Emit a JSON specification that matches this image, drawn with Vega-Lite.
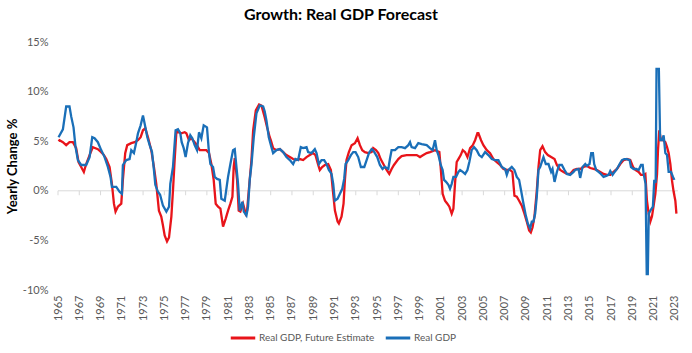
{
"$schema": "https://vega.github.io/schema/vega-lite/v6.json",
"autosize": {"type": "none"},
"padding": {"left": 58, "top": 42, "right": 14, "bottom": 63},
"width": 620,
"height": 248,
"background": "white",
"config": {"view": {"stroke": null}, "font": "Lato", "axisX": {"labelOverlap": false, "labelFlush": false}, "axis": {"labelOverlap": false}},
"title": {"text": "Growth: Real GDP Forecast", "font": "Lato", "fontSize": 16, "fontWeight": "bold", "color": "#000000", "anchor": "middle", "dx": -27, "offset": 13},
"layer": [
{
"data": {"values": [{"z": 0}]},
"mark": {"type": "rule", "color": "#d9d9d9", "strokeWidth": 1},
"encoding": {"y": {"field": "z", "type": "quantitative", "scale": {"domain": [-10, 15], "nice": false, "zero": false},
 "axis": {"values": [-10, -5, 0, 5, 10, 15], "labelExpr": "datum.value + '%'", "labelFont": "Lato", "labelFontSize": 11, "labelColor": "#595959", "labelPadding": 10, "ticks": false, "domain": false, "grid": false, "title": "Yearly Change %", "titleFont": "Lato", "titleFontSize": 13, "titleFontWeight": "bold", "titleColor": "#000000", "titlePadding": 3}}}
},
{
"data": {"values": [{"yr":1965},{"yr":1967},{"yr":1969},{"yr":1971},{"yr":1973},{"yr":1975},{"yr":1977},{"yr":1979},{"yr":1981},{"yr":1983},{"yr":1985},{"yr":1987},{"yr":1989},{"yr":1991},{"yr":1993},{"yr":1995},{"yr":1997},{"yr":1999},{"yr":2001},{"yr":2003},{"yr":2005},{"yr":2007},{"yr":2009},{"yr":2011},{"yr":2013},{"yr":2015},{"yr":2017},{"yr":2019},{"yr":2021},{"yr":2023}]},
"mark": {"type": "rule", "color": "#d9d9d9", "strokeWidth": 1},
"encoding": {
"x": {"field": "yr", "type": "quantitative", "scale": {"domain": [1965, 2023.3], "nice": false, "zero": false},
 "axis": {"values": [1965,1967,1969,1971,1973,1975,1977,1979,1981,1983,1985,1987,1989,1991,1993,1995,1997,1999,2001,2003,2005,2007,2009,2011,2013,2015,2017,2019,2021,2023], "format": "d", "labelAngle": -90, "labelFont": "Lato", "labelFontSize": 11, "labelColor": "#595959", "labelPadding": 5, "labelFlush": false, "labelOverlap": false, "labelSeparation": 0, "ticks": false, "domain": false, "grid": false, "title": null}},
"y": {"datum": 0, "type": "quantitative"},
"y2": {"datum": -0.45}
}
},
{
"data": {"values": [
{"t":1965.05,"v":5.0,"s":"Real GDP, Future Estimate"},{"t":1965.14,"v":5.1,"s":"Real GDP, Future Estimate"},{"t":1965.46,"v":4.9,"s":"Real GDP, Future Estimate"},{"t":1965.77,"v":4.6,"s":"Real GDP, Future Estimate"},{"t":1966.08,"v":4.9,"s":"Real GDP, Future Estimate"},{"t":1966.40,"v":4.9,"s":"Real GDP, Future Estimate"},{"t":1966.71,"v":4.3,"s":"Real GDP, Future Estimate"},{"t":1966.93,"v":2.9,"s":"Real GDP, Future Estimate"},{"t":1967.18,"v":2.4,"s":"Real GDP, Future Estimate"},{"t":1967.43,"v":1.9,"s":"Real GDP, Future Estimate"},{"t":1967.65,"v":2.7,"s":"Real GDP, Future Estimate"},{"t":1967.97,"v":3.6,"s":"Real GDP, Future Estimate"},{"t":1968.28,"v":4.4,"s":"Real GDP, Future Estimate"},{"t":1968.75,"v":4.2,"s":"Real GDP, Future Estimate"},{"t":1969.06,"v":3.9,"s":"Real GDP, Future Estimate"},{"t":1969.32,"v":3.6,"s":"Real GDP, Future Estimate"},{"t":1969.54,"v":3.2,"s":"Real GDP, Future Estimate"},{"t":1969.85,"v":2.4,"s":"Real GDP, Future Estimate"},{"t":1970.07,"v":0.7,"s":"Real GDP, Future Estimate"},{"t":1970.26,"v":-1.3,"s":"Real GDP, Future Estimate"},{"t":1970.41,"v":-2.1,"s":"Real GDP, Future Estimate"},{"t":1970.63,"v":-1.6,"s":"Real GDP, Future Estimate"},{"t":1970.95,"v":-1.3,"s":"Real GDP, Future Estimate"},{"t":1971.10,"v":1.1,"s":"Real GDP, Future Estimate"},{"t":1971.32,"v":3.8,"s":"Real GDP, Future Estimate"},{"t":1971.51,"v":4.6,"s":"Real GDP, Future Estimate"},{"t":1971.89,"v":4.8,"s":"Real GDP, Future Estimate"},{"t":1972.20,"v":4.9,"s":"Real GDP, Future Estimate"},{"t":1972.52,"v":5.1,"s":"Real GDP, Future Estimate"},{"t":1972.77,"v":5.4,"s":"Real GDP, Future Estimate"},{"t":1972.99,"v":6.1,"s":"Real GDP, Future Estimate"},{"t":1973.21,"v":6.3,"s":"Real GDP, Future Estimate"},{"t":1973.46,"v":5.4,"s":"Real GDP, Future Estimate"},{"t":1973.77,"v":4.1,"s":"Real GDP, Future Estimate"},{"t":1974.02,"v":2.4,"s":"Real GDP, Future Estimate"},{"t":1974.24,"v":0.7,"s":"Real GDP, Future Estimate"},{"t":1974.49,"v":-2.0,"s":"Real GDP, Future Estimate"},{"t":1974.71,"v":-2.6,"s":"Real GDP, Future Estimate"},{"t":1974.87,"v":-3.5,"s":"Real GDP, Future Estimate"},{"t":1975.03,"v":-4.5,"s":"Real GDP, Future Estimate"},{"t":1975.25,"v":-5.1,"s":"Real GDP, Future Estimate"},{"t":1975.44,"v":-4.7,"s":"Real GDP, Future Estimate"},{"t":1975.66,"v":-2.6,"s":"Real GDP, Future Estimate"},{"t":1975.81,"v":0.0,"s":"Real GDP, Future Estimate"},{"t":1975.97,"v":3.1,"s":"Real GDP, Future Estimate"},{"t":1976.13,"v":5.9,"s":"Real GDP, Future Estimate"},{"t":1976.38,"v":5.9,"s":"Real GDP, Future Estimate"},{"t":1976.60,"v":5.8,"s":"Real GDP, Future Estimate"},{"t":1976.91,"v":5.9,"s":"Real GDP, Future Estimate"},{"t":1977.07,"v":5.8,"s":"Real GDP, Future Estimate"},{"t":1977.32,"v":5.1,"s":"Real GDP, Future Estimate"},{"t":1977.54,"v":5.3,"s":"Real GDP, Future Estimate"},{"t":1977.85,"v":4.9,"s":"Real GDP, Future Estimate"},{"t":1978.07,"v":4.6,"s":"Real GDP, Future Estimate"},{"t":1978.32,"v":4.1,"s":"Real GDP, Future Estimate"},{"t":1978.64,"v":4.1,"s":"Real GDP, Future Estimate"},{"t":1978.95,"v":4.1,"s":"Real GDP, Future Estimate"},{"t":1979.20,"v":3.8,"s":"Real GDP, Future Estimate"},{"t":1979.42,"v":2.7,"s":"Real GDP, Future Estimate"},{"t":1979.64,"v":1.1,"s":"Real GDP, Future Estimate"},{"t":1979.83,"v":-1.3,"s":"Real GDP, Future Estimate"},{"t":1980.05,"v":-1.6,"s":"Real GDP, Future Estimate"},{"t":1980.27,"v":-1.8,"s":"Real GDP, Future Estimate"},{"t":1980.52,"v":-3.6,"s":"Real GDP, Future Estimate"},{"t":1980.77,"v":-2.8,"s":"Real GDP, Future Estimate"},{"t":1980.99,"v":-2.0,"s":"Real GDP, Future Estimate"},{"t":1981.21,"v":-1.3,"s":"Real GDP, Future Estimate"},{"t":1981.40,"v":-0.6,"s":"Real GDP, Future Estimate"},{"t":1981.52,"v":2.4,"s":"Real GDP, Future Estimate"},{"t":1981.62,"v":3.3,"s":"Real GDP, Future Estimate"},{"t":1981.84,"v":1.1,"s":"Real GDP, Future Estimate"},{"t":1981.99,"v":-2.0,"s":"Real GDP, Future Estimate"},{"t":1982.15,"v":-2.1,"s":"Real GDP, Future Estimate"},{"t":1982.40,"v":-1.3,"s":"Real GDP, Future Estimate"},{"t":1982.65,"v":-2.3,"s":"Real GDP, Future Estimate"},{"t":1982.78,"v":-2.0,"s":"Real GDP, Future Estimate"},{"t":1982.97,"v":0.4,"s":"Real GDP, Future Estimate"},{"t":1983.19,"v":3.1,"s":"Real GDP, Future Estimate"},{"t":1983.35,"v":6.1,"s":"Real GDP, Future Estimate"},{"t":1983.60,"v":8.1,"s":"Real GDP, Future Estimate"},{"t":1983.91,"v":8.7,"s":"Real GDP, Future Estimate"},{"t":1984.13,"v":8.6,"s":"Real GDP, Future Estimate"},{"t":1984.44,"v":7.4,"s":"Real GDP, Future Estimate"},{"t":1984.66,"v":6.4,"s":"Real GDP, Future Estimate"},{"t":1984.91,"v":5.4,"s":"Real GDP, Future Estimate"},{"t":1985.01,"v":5.1,"s":"Real GDP, Future Estimate"},{"t":1985.23,"v":4.3,"s":"Real GDP, Future Estimate"},{"t":1985.54,"v":4.1,"s":"Real GDP, Future Estimate"},{"t":1985.86,"v":4.2,"s":"Real GDP, Future Estimate"},{"t":1986.17,"v":3.9,"s":"Real GDP, Future Estimate"},{"t":1986.48,"v":3.6,"s":"Real GDP, Future Estimate"},{"t":1986.80,"v":3.4,"s":"Real GDP, Future Estimate"},{"t":1987.11,"v":3.2,"s":"Real GDP, Future Estimate"},{"t":1987.43,"v":3.1,"s":"Real GDP, Future Estimate"},{"t":1987.74,"v":3.2,"s":"Real GDP, Future Estimate"},{"t":1988.05,"v":3.1,"s":"Real GDP, Future Estimate"},{"t":1988.37,"v":3.4,"s":"Real GDP, Future Estimate"},{"t":1988.68,"v":3.6,"s":"Real GDP, Future Estimate"},{"t":1988.99,"v":3.8,"s":"Real GDP, Future Estimate"},{"t":1989.21,"v":3.6,"s":"Real GDP, Future Estimate"},{"t":1989.47,"v":2.6,"s":"Real GDP, Future Estimate"},{"t":1989.62,"v":2.1,"s":"Real GDP, Future Estimate"},{"t":1989.84,"v":2.4,"s":"Real GDP, Future Estimate"},{"t":1990.09,"v":2.6,"s":"Real GDP, Future Estimate"},{"t":1990.41,"v":2.7,"s":"Real GDP, Future Estimate"},{"t":1990.66,"v":2.1,"s":"Real GDP, Future Estimate"},{"t":1990.85,"v":0.0,"s":"Real GDP, Future Estimate"},{"t":1991.04,"v":-2.0,"s":"Real GDP, Future Estimate"},{"t":1991.29,"v":-3.1,"s":"Real GDP, Future Estimate"},{"t":1991.41,"v":-3.3,"s":"Real GDP, Future Estimate"},{"t":1991.66,"v":-2.6,"s":"Real GDP, Future Estimate"},{"t":1991.85,"v":-1.3,"s":"Real GDP, Future Estimate"},{"t":1991.98,"v":1.1,"s":"Real GDP, Future Estimate"},{"t":1992.13,"v":3.1,"s":"Real GDP, Future Estimate"},{"t":1992.35,"v":3.9,"s":"Real GDP, Future Estimate"},{"t":1992.61,"v":4.6,"s":"Real GDP, Future Estimate"},{"t":1992.92,"v":4.8,"s":"Real GDP, Future Estimate"},{"t":1993.17,"v":5.3,"s":"Real GDP, Future Estimate"},{"t":1993.39,"v":4.6,"s":"Real GDP, Future Estimate"},{"t":1993.61,"v":4.1,"s":"Real GDP, Future Estimate"},{"t":1993.86,"v":3.9,"s":"Real GDP, Future Estimate"},{"t":1994.17,"v":3.8,"s":"Real GDP, Future Estimate"},{"t":1994.49,"v":3.9,"s":"Real GDP, Future Estimate"},{"t":1994.64,"v":4.3,"s":"Real GDP, Future Estimate"},{"t":1994.90,"v":4.1,"s":"Real GDP, Future Estimate"},{"t":1995.12,"v":3.8,"s":"Real GDP, Future Estimate"},{"t":1995.34,"v":3.2,"s":"Real GDP, Future Estimate"},{"t":1995.59,"v":2.7,"s":"Real GDP, Future Estimate"},{"t":1995.90,"v":2.1,"s":"Real GDP, Future Estimate"},{"t":1996.15,"v":1.7,"s":"Real GDP, Future Estimate"},{"t":1996.37,"v":2.2,"s":"Real GDP, Future Estimate"},{"t":1996.59,"v":2.6,"s":"Real GDP, Future Estimate"},{"t":1997.00,"v":3.2,"s":"Real GDP, Future Estimate"},{"t":1997.31,"v":3.5,"s":"Real GDP, Future Estimate"},{"t":1997.78,"v":3.6,"s":"Real GDP, Future Estimate"},{"t":1998.25,"v":3.6,"s":"Real GDP, Future Estimate"},{"t":1998.73,"v":3.6,"s":"Real GDP, Future Estimate"},{"t":1999.04,"v":3.4,"s":"Real GDP, Future Estimate"},{"t":1999.35,"v":3.6,"s":"Real GDP, Future Estimate"},{"t":1999.67,"v":3.8,"s":"Real GDP, Future Estimate"},{"t":1999.98,"v":3.9,"s":"Real GDP, Future Estimate"},{"t":2000.45,"v":4.1,"s":"Real GDP, Future Estimate"},{"t":2000.86,"v":3.9,"s":"Real GDP, Future Estimate"},{"t":2000.98,"v":2.4,"s":"Real GDP, Future Estimate"},{"t":2001.17,"v":-0.3,"s":"Real GDP, Future Estimate"},{"t":2001.39,"v":-1.0,"s":"Real GDP, Future Estimate"},{"t":2001.61,"v":-1.3,"s":"Real GDP, Future Estimate"},{"t":2001.80,"v":-1.6,"s":"Real GDP, Future Estimate"},{"t":2002.02,"v":-2.3,"s":"Real GDP, Future Estimate"},{"t":2002.18,"v":-1.8,"s":"Real GDP, Future Estimate"},{"t":2002.33,"v":0.7,"s":"Real GDP, Future Estimate"},{"t":2002.49,"v":2.9,"s":"Real GDP, Future Estimate"},{"t":2002.65,"v":3.2,"s":"Real GDP, Future Estimate"},{"t":2002.87,"v":3.6,"s":"Real GDP, Future Estimate"},{"t":2003.06,"v":4.1,"s":"Real GDP, Future Estimate"},{"t":2003.28,"v":3.9,"s":"Real GDP, Future Estimate"},{"t":2003.50,"v":3.4,"s":"Real GDP, Future Estimate"},{"t":2003.75,"v":4.3,"s":"Real GDP, Future Estimate"},{"t":2004.00,"v":4.6,"s":"Real GDP, Future Estimate"},{"t":2004.22,"v":5.1,"s":"Real GDP, Future Estimate"},{"t":2004.44,"v":5.8,"s":"Real GDP, Future Estimate"},{"t":2004.53,"v":5.8,"s":"Real GDP, Future Estimate"},{"t":2004.78,"v":5.1,"s":"Real GDP, Future Estimate"},{"t":2005.00,"v":4.6,"s":"Real GDP, Future Estimate"},{"t":2005.32,"v":4.1,"s":"Real GDP, Future Estimate"},{"t":2005.63,"v":3.8,"s":"Real GDP, Future Estimate"},{"t":2005.94,"v":3.2,"s":"Real GDP, Future Estimate"},{"t":2006.26,"v":2.9,"s":"Real GDP, Future Estimate"},{"t":2006.57,"v":2.6,"s":"Real GDP, Future Estimate"},{"t":2006.89,"v":2.2,"s":"Real GDP, Future Estimate"},{"t":2007.20,"v":2.1,"s":"Real GDP, Future Estimate"},{"t":2007.51,"v":2.1,"s":"Real GDP, Future Estimate"},{"t":2007.73,"v":1.9,"s":"Real GDP, Future Estimate"},{"t":2007.92,"v":-0.5,"s":"Real GDP, Future Estimate"},{"t":2008.14,"v":-0.6,"s":"Real GDP, Future Estimate"},{"t":2008.36,"v":-1.0,"s":"Real GDP, Future Estimate"},{"t":2008.61,"v":-1.5,"s":"Real GDP, Future Estimate"},{"t":2008.86,"v":-2.3,"s":"Real GDP, Future Estimate"},{"t":2009.08,"v":-3.1,"s":"Real GDP, Future Estimate"},{"t":2009.30,"v":-4.0,"s":"Real GDP, Future Estimate"},{"t":2009.46,"v":-4.2,"s":"Real GDP, Future Estimate"},{"t":2009.62,"v":-3.7,"s":"Real GDP, Future Estimate"},{"t":2009.80,"v":-2.6,"s":"Real GDP, Future Estimate"},{"t":2010.02,"v":0.0,"s":"Real GDP, Future Estimate"},{"t":2010.18,"v":2.4,"s":"Real GDP, Future Estimate"},{"t":2010.34,"v":4.1,"s":"Real GDP, Future Estimate"},{"t":2010.56,"v":4.5,"s":"Real GDP, Future Estimate"},{"t":2010.81,"v":3.9,"s":"Real GDP, Future Estimate"},{"t":2011.06,"v":3.6,"s":"Real GDP, Future Estimate"},{"t":2011.37,"v":3.4,"s":"Real GDP, Future Estimate"},{"t":2011.69,"v":3.2,"s":"Real GDP, Future Estimate"},{"t":2011.91,"v":2.6,"s":"Real GDP, Future Estimate"},{"t":2012.22,"v":2.1,"s":"Real GDP, Future Estimate"},{"t":2012.54,"v":1.9,"s":"Real GDP, Future Estimate"},{"t":2012.85,"v":1.7,"s":"Real GDP, Future Estimate"},{"t":2013.16,"v":1.7,"s":"Real GDP, Future Estimate"},{"t":2013.48,"v":2.1,"s":"Real GDP, Future Estimate"},{"t":2013.79,"v":2.2,"s":"Real GDP, Future Estimate"},{"t":2014.10,"v":2.2,"s":"Real GDP, Future Estimate"},{"t":2014.42,"v":2.4,"s":"Real GDP, Future Estimate"},{"t":2014.73,"v":2.5,"s":"Real GDP, Future Estimate"},{"t":2015.05,"v":2.3,"s":"Real GDP, Future Estimate"},{"t":2015.36,"v":2.2,"s":"Real GDP, Future Estimate"},{"t":2015.68,"v":2.1,"s":"Real GDP, Future Estimate"},{"t":2015.99,"v":1.9,"s":"Real GDP, Future Estimate"},{"t":2016.30,"v":1.7,"s":"Real GDP, Future Estimate"},{"t":2016.62,"v":1.6,"s":"Real GDP, Future Estimate"},{"t":2016.93,"v":1.6,"s":"Real GDP, Future Estimate"},{"t":2017.24,"v":1.9,"s":"Real GDP, Future Estimate"},{"t":2017.56,"v":2.2,"s":"Real GDP, Future Estimate"},{"t":2017.87,"v":2.7,"s":"Real GDP, Future Estimate"},{"t":2018.19,"v":3.1,"s":"Real GDP, Future Estimate"},{"t":2018.50,"v":3.2,"s":"Real GDP, Future Estimate"},{"t":2018.81,"v":3.1,"s":"Real GDP, Future Estimate"},{"t":2019.07,"v":2.4,"s":"Real GDP, Future Estimate"},{"t":2019.29,"v":2.1,"s":"Real GDP, Future Estimate"},{"t":2019.60,"v":1.9,"s":"Real GDP, Future Estimate"},{"t":2019.82,"v":1.6,"s":"Real GDP, Future Estimate"},{"t":2020.07,"v":1.6,"s":"Real GDP, Future Estimate"},{"t":2020.23,"v":1.7,"s":"Real GDP, Future Estimate"},{"t":2020.38,"v":-1.0,"s":"Real GDP, Future Estimate"},{"t":2020.54,"v":-2.3,"s":"Real GDP, Future Estimate"},{"t":2020.70,"v":-3.1,"s":"Real GDP, Future Estimate"},{"t":2020.85,"v":-2.6,"s":"Real GDP, Future Estimate"},{"t":2021.01,"v":-1.5,"s":"Real GDP, Future Estimate"},{"t":2021.17,"v":-0.3,"s":"Real GDP, Future Estimate"},{"t":2021.33,"v":1.7,"s":"Real GDP, Future Estimate"},{"t":2021.42,"v":4.1,"s":"Real GDP, Future Estimate"},{"t":2021.54,"v":6.1,"s":"Real GDP, Future Estimate"},{"t":2021.70,"v":5.1,"s":"Real GDP, Future Estimate"},{"t":2021.89,"v":5.1,"s":"Real GDP, Future Estimate"},{"t":2022.11,"v":4.9,"s":"Real GDP, Future Estimate"},{"t":2022.27,"v":4.4,"s":"Real GDP, Future Estimate"},{"t":2022.42,"v":3.8,"s":"Real GDP, Future Estimate"},{"t":2022.58,"v":2.7,"s":"Real GDP, Future Estimate"},{"t":2022.74,"v":1.0,"s":"Real GDP, Future Estimate"},{"t":2022.89,"v":-0.1,"s":"Real GDP, Future Estimate"},{"t":2023.05,"v":-1.0,"s":"Real GDP, Future Estimate"},{"t":2023.15,"v":-2.3,"s":"Real GDP, Future Estimate"},
{"t":1965.05,"v":5.4,"s":"Real GDP"},{"t":1965.46,"v":6.2,"s":"Real GDP"},{"t":1965.77,"v":8.5,"s":"Real GDP"},{"t":1966.08,"v":8.5,"s":"Real GDP"},{"t":1966.24,"v":7.5,"s":"Real GDP"},{"t":1966.46,"v":6.4,"s":"Real GDP"},{"t":1966.65,"v":4.4,"s":"Real GDP"},{"t":1966.87,"v":3.1,"s":"Real GDP"},{"t":1967.18,"v":2.6,"s":"Real GDP"},{"t":1967.65,"v":2.6,"s":"Real GDP"},{"t":1967.97,"v":3.4,"s":"Real GDP"},{"t":1968.22,"v":5.4,"s":"Real GDP"},{"t":1968.44,"v":5.3,"s":"Real GDP"},{"t":1968.75,"v":4.9,"s":"Real GDP"},{"t":1969.06,"v":4.1,"s":"Real GDP"},{"t":1969.38,"v":3.4,"s":"Real GDP"},{"t":1969.69,"v":2.4,"s":"Real GDP"},{"t":1969.94,"v":1.4,"s":"Real GDP"},{"t":1970.07,"v":0.4,"s":"Real GDP"},{"t":1970.48,"v":0.4,"s":"Real GDP"},{"t":1970.79,"v":-0.1,"s":"Real GDP"},{"t":1971.01,"v":-0.3,"s":"Real GDP"},{"t":1971.10,"v":2.6,"s":"Real GDP"},{"t":1971.42,"v":3.1,"s":"Real GDP"},{"t":1971.73,"v":3.2,"s":"Real GDP"},{"t":1971.89,"v":4.1,"s":"Real GDP"},{"t":1972.14,"v":3.8,"s":"Real GDP"},{"t":1972.36,"v":4.9,"s":"Real GDP"},{"t":1972.52,"v":5.8,"s":"Real GDP"},{"t":1972.77,"v":6.6,"s":"Real GDP"},{"t":1972.99,"v":7.6,"s":"Real GDP"},{"t":1973.14,"v":6.8,"s":"Real GDP"},{"t":1973.40,"v":5.4,"s":"Real GDP"},{"t":1973.62,"v":4.6,"s":"Real GDP"},{"t":1973.84,"v":3.9,"s":"Real GDP"},{"t":1974.02,"v":2.1,"s":"Real GDP"},{"t":1974.15,"v":0.6,"s":"Real GDP"},{"t":1974.40,"v":-0.1,"s":"Real GDP"},{"t":1974.60,"v":-0.4,"s":"Real GDP"},{"t":1974.87,"v":-1.5,"s":"Real GDP"},{"t":1975.19,"v":-2.1,"s":"Real GDP"},{"t":1975.44,"v":-1.6,"s":"Real GDP"},{"t":1975.56,"v":0.7,"s":"Real GDP"},{"t":1975.81,"v":2.4,"s":"Real GDP"},{"t":1976.06,"v":6.1,"s":"Real GDP"},{"t":1976.28,"v":6.2,"s":"Real GDP"},{"t":1976.50,"v":5.8,"s":"Real GDP"},{"t":1976.63,"v":4.9,"s":"Real GDP"},{"t":1976.82,"v":4.3,"s":"Real GDP"},{"t":1977.00,"v":3.4,"s":"Real GDP"},{"t":1977.22,"v":4.8,"s":"Real GDP"},{"t":1977.44,"v":5.6,"s":"Real GDP"},{"t":1977.63,"v":5.3,"s":"Real GDP"},{"t":1977.85,"v":4.6,"s":"Real GDP"},{"t":1978.07,"v":4.1,"s":"Real GDP"},{"t":1978.26,"v":5.9,"s":"Real GDP"},{"t":1978.48,"v":5.3,"s":"Real GDP"},{"t":1978.70,"v":6.6,"s":"Real GDP"},{"t":1979.01,"v":6.4,"s":"Real GDP"},{"t":1979.20,"v":3.8,"s":"Real GDP"},{"t":1979.33,"v":2.7,"s":"Real GDP"},{"t":1979.58,"v":2.4,"s":"Real GDP"},{"t":1979.74,"v":1.4,"s":"Real GDP"},{"t":1979.96,"v":1.2,"s":"Real GDP"},{"t":1980.21,"v":1.1,"s":"Real GDP"},{"t":1980.36,"v":-0.8,"s":"Real GDP"},{"t":1980.68,"v":-1.0,"s":"Real GDP"},{"t":1980.99,"v":1.4,"s":"Real GDP"},{"t":1981.21,"v":2.7,"s":"Real GDP"},{"t":1981.46,"v":4.1,"s":"Real GDP"},{"t":1981.62,"v":4.2,"s":"Real GDP"},{"t":1981.78,"v":2.4,"s":"Real GDP"},{"t":1981.93,"v":0.7,"s":"Real GDP"},{"t":1982.09,"v":-2.0,"s":"Real GDP"},{"t":1982.34,"v":-1.1,"s":"Real GDP"},{"t":1982.47,"v":-2.1,"s":"Real GDP"},{"t":1982.72,"v":-2.5,"s":"Real GDP"},{"t":1982.87,"v":-1.6,"s":"Real GDP"},{"t":1983.03,"v":1.1,"s":"Real GDP"},{"t":1983.19,"v":2.6,"s":"Real GDP"},{"t":1983.41,"v":5.4,"s":"Real GDP"},{"t":1983.66,"v":7.8,"s":"Real GDP"},{"t":1983.97,"v":8.6,"s":"Real GDP"},{"t":1984.29,"v":8.5,"s":"Real GDP"},{"t":1984.44,"v":8.0,"s":"Real GDP"},{"t":1984.60,"v":7.1,"s":"Real GDP"},{"t":1984.82,"v":5.4,"s":"Real GDP"},{"t":1985.07,"v":4.4,"s":"Real GDP"},{"t":1985.23,"v":3.8,"s":"Real GDP"},{"t":1985.54,"v":4.1,"s":"Real GDP"},{"t":1985.86,"v":4.2,"s":"Real GDP"},{"t":1986.17,"v":3.9,"s":"Real GDP"},{"t":1986.48,"v":3.4,"s":"Real GDP"},{"t":1986.80,"v":3.1,"s":"Real GDP"},{"t":1987.11,"v":2.7,"s":"Real GDP"},{"t":1987.33,"v":3.2,"s":"Real GDP"},{"t":1987.58,"v":3.1,"s":"Real GDP"},{"t":1987.83,"v":4.4,"s":"Real GDP"},{"t":1988.05,"v":4.3,"s":"Real GDP"},{"t":1988.37,"v":4.4,"s":"Real GDP"},{"t":1988.52,"v":3.9,"s":"Real GDP"},{"t":1988.84,"v":3.8,"s":"Real GDP"},{"t":1989.15,"v":4.2,"s":"Real GDP"},{"t":1989.31,"v":3.8,"s":"Real GDP"},{"t":1989.53,"v":2.7,"s":"Real GDP"},{"t":1989.78,"v":3.1,"s":"Real GDP"},{"t":1990.03,"v":3.1,"s":"Real GDP"},{"t":1990.25,"v":2.7,"s":"Real GDP"},{"t":1990.47,"v":2.1,"s":"Real GDP"},{"t":1990.72,"v":1.7,"s":"Real GDP"},{"t":1990.88,"v":0.7,"s":"Real GDP"},{"t":1991.03,"v":-1.0,"s":"Real GDP"},{"t":1991.29,"v":-0.8,"s":"Real GDP"},{"t":1991.51,"v":-0.3,"s":"Real GDP"},{"t":1991.73,"v":0.2,"s":"Real GDP"},{"t":1991.91,"v":1.2,"s":"Real GDP"},{"t":1992.04,"v":2.7,"s":"Real GDP"},{"t":1992.29,"v":3.1,"s":"Real GDP"},{"t":1992.54,"v":3.6,"s":"Real GDP"},{"t":1992.76,"v":3.9,"s":"Real GDP"},{"t":1992.98,"v":3.9,"s":"Real GDP"},{"t":1993.23,"v":3.4,"s":"Real GDP"},{"t":1993.48,"v":2.4,"s":"Real GDP"},{"t":1993.80,"v":2.4,"s":"Real GDP"},{"t":1994.02,"v":3.1,"s":"Real GDP"},{"t":1994.24,"v":3.8,"s":"Real GDP"},{"t":1994.49,"v":4.2,"s":"Real GDP"},{"t":1994.63,"v":4.1,"s":"Real GDP"},{"t":1994.80,"v":3.8,"s":"Real GDP"},{"t":1995.02,"v":3.4,"s":"Real GDP"},{"t":1995.27,"v":2.6,"s":"Real GDP"},{"t":1995.52,"v":2.2,"s":"Real GDP"},{"t":1995.74,"v":2.4,"s":"Real GDP"},{"t":1996.06,"v":2.2,"s":"Real GDP"},{"t":1996.21,"v":3.2,"s":"Real GDP"},{"t":1996.37,"v":4.1,"s":"Real GDP"},{"t":1996.69,"v":4.1,"s":"Real GDP"},{"t":1997.00,"v":4.4,"s":"Real GDP"},{"t":1997.31,"v":4.4,"s":"Real GDP"},{"t":1997.63,"v":4.3,"s":"Real GDP"},{"t":1997.94,"v":4.6,"s":"Real GDP"},{"t":1998.10,"v":4.9,"s":"Real GDP"},{"t":1998.25,"v":4.4,"s":"Real GDP"},{"t":1998.57,"v":4.3,"s":"Real GDP"},{"t":1998.88,"v":4.8,"s":"Real GDP"},{"t":1999.20,"v":4.7,"s":"Real GDP"},{"t":1999.67,"v":4.6,"s":"Real GDP"},{"t":1999.98,"v":4.3,"s":"Real GDP"},{"t":2000.23,"v":4.1,"s":"Real GDP"},{"t":2000.45,"v":5.1,"s":"Real GDP"},{"t":2000.61,"v":4.1,"s":"Real GDP"},{"t":2000.77,"v":3.6,"s":"Real GDP"},{"t":2000.99,"v":2.6,"s":"Real GDP"},{"t":2001.17,"v":2.1,"s":"Real GDP"},{"t":2001.30,"v":1.1,"s":"Real GDP"},{"t":2001.49,"v":0.9,"s":"Real GDP"},{"t":2001.71,"v":0.6,"s":"Real GDP"},{"t":2001.86,"v":0.2,"s":"Real GDP"},{"t":2002.02,"v":0.7,"s":"Real GDP"},{"t":2002.18,"v":1.4,"s":"Real GDP"},{"t":2002.43,"v":1.4,"s":"Real GDP"},{"t":2002.65,"v":1.9,"s":"Real GDP"},{"t":2002.81,"v":2.1,"s":"Real GDP"},{"t":2003.06,"v":1.9,"s":"Real GDP"},{"t":2003.28,"v":1.7,"s":"Real GDP"},{"t":2003.50,"v":2.1,"s":"Real GDP"},{"t":2003.68,"v":2.9,"s":"Real GDP"},{"t":2003.90,"v":4.1,"s":"Real GDP"},{"t":2004.12,"v":4.4,"s":"Real GDP"},{"t":2004.37,"v":4.1,"s":"Real GDP"},{"t":2004.60,"v":3.6,"s":"Real GDP"},{"t":2004.85,"v":3.4,"s":"Real GDP"},{"t":2005.16,"v":3.9,"s":"Real GDP"},{"t":2005.47,"v":3.6,"s":"Real GDP"},{"t":2005.79,"v":3.2,"s":"Real GDP"},{"t":2006.10,"v":3.1,"s":"Real GDP"},{"t":2006.41,"v":3.1,"s":"Real GDP"},{"t":2006.73,"v":2.4,"s":"Real GDP"},{"t":2007.04,"v":2.2,"s":"Real GDP"},{"t":2007.20,"v":1.6,"s":"Real GDP"},{"t":2007.36,"v":2.1,"s":"Real GDP"},{"t":2007.67,"v":2.4,"s":"Real GDP"},{"t":2007.92,"v":2.1,"s":"Real GDP"},{"t":2008.14,"v":1.4,"s":"Real GDP"},{"t":2008.36,"v":1.1,"s":"Real GDP"},{"t":2008.55,"v":0.0,"s":"Real GDP"},{"t":2008.77,"v":-1.3,"s":"Real GDP"},{"t":2008.99,"v":-2.5,"s":"Real GDP"},{"t":2009.18,"v":-3.3,"s":"Real GDP"},{"t":2009.40,"v":-3.8,"s":"Real GDP"},{"t":2009.55,"v":-3.1,"s":"Real GDP"},{"t":2009.71,"v":-3.1,"s":"Real GDP"},{"t":2009.87,"v":-2.3,"s":"Real GDP"},{"t":2010.02,"v":-0.6,"s":"Real GDP"},{"t":2010.18,"v":2.1,"s":"Real GDP"},{"t":2010.34,"v":2.4,"s":"Real GDP"},{"t":2010.49,"v":2.9,"s":"Real GDP"},{"t":2010.65,"v":3.4,"s":"Real GDP"},{"t":2010.87,"v":2.7,"s":"Real GDP"},{"t":2011.12,"v":2.7,"s":"Real GDP"},{"t":2011.37,"v":1.9,"s":"Real GDP"},{"t":2011.50,"v":2.2,"s":"Real GDP"},{"t":2011.69,"v":0.9,"s":"Real GDP"},{"t":2011.91,"v":1.9,"s":"Real GDP"},{"t":2012.13,"v":2.6,"s":"Real GDP"},{"t":2012.38,"v":2.6,"s":"Real GDP"},{"t":2012.63,"v":2.1,"s":"Real GDP"},{"t":2012.85,"v":1.7,"s":"Real GDP"},{"t":2013.16,"v":1.6,"s":"Real GDP"},{"t":2013.48,"v":1.9,"s":"Real GDP"},{"t":2013.63,"v":2.1,"s":"Real GDP"},{"t":2013.95,"v":2.2,"s":"Real GDP"},{"t":2014.10,"v":1.3,"s":"Real GDP"},{"t":2014.32,"v":2.4,"s":"Real GDP"},{"t":2014.58,"v":2.7,"s":"Real GDP"},{"t":2014.73,"v":2.5,"s":"Real GDP"},{"t":2014.98,"v":2.7,"s":"Real GDP"},{"t":2015.14,"v":3.8,"s":"Real GDP"},{"t":2015.30,"v":3.8,"s":"Real GDP"},{"t":2015.42,"v":2.7,"s":"Real GDP"},{"t":2015.61,"v":2.1,"s":"Real GDP"},{"t":2015.83,"v":1.9,"s":"Real GDP"},{"t":2016.05,"v":1.7,"s":"Real GDP"},{"t":2016.30,"v":1.4,"s":"Real GDP"},{"t":2016.55,"v":1.5,"s":"Real GDP"},{"t":2016.77,"v":1.6,"s":"Real GDP"},{"t":2016.93,"v":2.0,"s":"Real GDP"},{"t":2017.15,"v":1.6,"s":"Real GDP"},{"t":2017.34,"v":1.9,"s":"Real GDP"},{"t":2017.56,"v":2.2,"s":"Real GDP"},{"t":2017.81,"v":2.7,"s":"Real GDP"},{"t":2018.03,"v":3.1,"s":"Real GDP"},{"t":2018.25,"v":3.2,"s":"Real GDP"},{"t":2018.50,"v":3.2,"s":"Real GDP"},{"t":2018.75,"v":3.1,"s":"Real GDP"},{"t":2018.88,"v":2.4,"s":"Real GDP"},{"t":2019.13,"v":2.2,"s":"Real GDP"},{"t":2019.38,"v":2.2,"s":"Real GDP"},{"t":2019.60,"v":2.1,"s":"Real GDP"},{"t":2019.82,"v":2.6,"s":"Real GDP"},{"t":2019.98,"v":2.6,"s":"Real GDP"},{"t":2020.07,"v":1.7,"s":"Real GDP"},{"t":2020.25,"v":0.7,"s":"Real GDP"},{"t":2020.36,"v":-8.4,"s":"Real GDP"},{"t":2020.46,"v":-8.4,"s":"Real GDP"},{"t":2020.55,"v":-2.3,"s":"Real GDP"},{"t":2020.70,"v":-2.0,"s":"Real GDP"},{"t":2020.94,"v":-1.6,"s":"Real GDP"},{"t":2021.07,"v":1.1,"s":"Real GDP"},{"t":2021.20,"v":0.8,"s":"Real GDP"},{"t":2021.28,"v":12.3,"s":"Real GDP"},{"t":2021.50,"v":12.3,"s":"Real GDP"},{"t":2021.62,"v":5.1,"s":"Real GDP"},{"t":2021.80,"v":5.1,"s":"Real GDP"},{"t":2021.95,"v":5.6,"s":"Real GDP"},{"t":2022.11,"v":3.8,"s":"Real GDP"},{"t":2022.27,"v":3.6,"s":"Real GDP"},{"t":2022.42,"v":1.9,"s":"Real GDP"},{"t":2022.64,"v":1.9,"s":"Real GDP"},{"t":2022.83,"v":1.4,"s":"Real GDP"},{"t":2022.96,"v":1.1,"s":"Real GDP"}
]},
"mark": {"type": "line", "strokeWidth": 2.3, "interpolate": "linear"},
"encoding": {
"x": {"field": "t", "type": "quantitative",
 "axis": {"values": [1965,1967,1969,1971,1973,1975,1977,1979,1981,1983,1985,1987,1989,1991,1993,1995,1997,1999,2001,2003,2005,2007,2009,2011,2013,2015,2017,2019,2021,2023], "format": "d", "labelAngle": -90, "labelFont": "Lato", "labelFontSize": 11, "labelColor": "#595959", "labelPadding": 5, "labelFlush": false, "labelOverlap": false, "labelSeparation": 0, "ticks": false, "domain": false, "grid": false, "title": null}},
"y": {"field": "v", "type": "quantitative"},
"color": {"field": "s", "type": "nominal", "sort": null,
 "scale": {"domain": ["Real GDP, Future Estimate", "Real GDP"], "range": ["#e8141a", "#1a6fb8"]},
 "legend": {"title": null, "orient": "none", "legendX": 171, "legendY": 282, "direction": "horizontal", "symbolType": "stroke", "symbolSize": 600, "symbolStrokeWidth": 3, "labelFont": "Lato", "labelFontSize": 10, "labelColor": "#595959", "labelOffset": 2, "columnPadding": 4}}
}
}
]
}
